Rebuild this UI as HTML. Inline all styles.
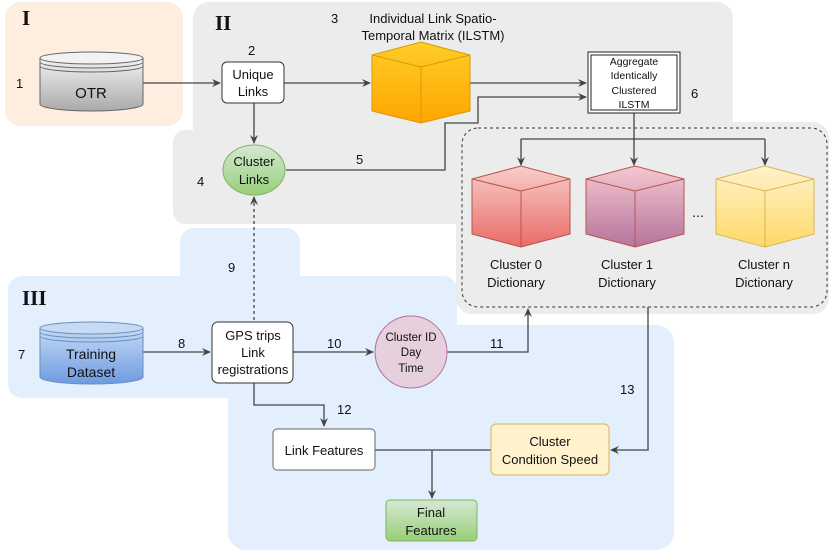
<!DOCTYPE html>
<html><head><style>body{margin:0;background:#fff}svg{display:block}text{font-family:"Liberation Sans",sans-serif;font-size:13px;fill:#111}</style></head><body>
<svg width="830" height="553" viewBox="0 0 830 553" xmlns="http://www.w3.org/2000/svg">
<defs>
<marker id="a" markerWidth="10" markerHeight="10" refX="8" refY="5" orient="auto" markerUnits="userSpaceOnUse"><path d="M0,1 L9,5 L0,9 L3,5 Z" fill="#444"/></marker>
<linearGradient id="gOTR" x1="0" y1="0" x2="0" y2="1"><stop offset="0" stop-color="#f2f2f2"/><stop offset="1" stop-color="#aaa"/></linearGradient>
<linearGradient id="gTD" x1="0" y1="0" x2="0" y2="1"><stop offset="0" stop-color="#c4daf5"/><stop offset="1" stop-color="#6d9be0"/></linearGradient>
<linearGradient id="gOr" x1="0" y1="0" x2="0" y2="1"><stop offset="0" stop-color="#ffcd28"/><stop offset="1" stop-color="#ffa500"/></linearGradient>
<linearGradient id="gR" x1="0" y1="0" x2="0" y2="1"><stop offset="0" stop-color="#f8cecc"/><stop offset="1" stop-color="#ea6b66"/></linearGradient>
<linearGradient id="gP" x1="0" y1="0" x2="0" y2="1"><stop offset="0" stop-color="#f5c8d0"/><stop offset="1" stop-color="#b5739d"/></linearGradient>
<linearGradient id="gY" x1="0" y1="0" x2="0" y2="1"><stop offset="0" stop-color="#fff2cc"/><stop offset="1" stop-color="#ffd966"/></linearGradient>
<linearGradient id="gG" x1="0" y1="0" x2="0" y2="1"><stop offset="0" stop-color="#d5e8d4"/><stop offset="1" stop-color="#97d077"/></linearGradient>
</defs>
<!-- regions -->
<rect x="5" y="2" width="178" height="124" rx="16" fill="#fdeee0"/>
<rect x="193" y="2" width="540" height="222" rx="16" fill="#ececec"/>
<rect x="173" y="130" width="300" height="94" rx="12" fill="#ececec"/>
<rect x="180" y="228" width="120" height="100" rx="14" fill="#e3effc"/>
<rect x="8" y="276" width="449" height="122" rx="14" fill="#e3effc"/>
<rect x="228" y="300" width="229" height="100" fill="#e3effc"/>
<rect x="228" y="325" width="446" height="225" rx="18" fill="#e3effc"/>
<rect x="456" y="122" width="373" height="192" rx="16" fill="#ececec"/>
<rect x="462" y="128" width="365" height="179" rx="16" fill="none" stroke="#333" stroke-dasharray="3,3"/>
<text x="22" y="25" style="font-family:'Liberation Serif',serif;font-size:21px;font-weight:bold">I</text>
<text x="215" y="30" style="font-family:'Liberation Serif',serif;font-size:21px;font-weight:bold">II</text>
<text x="22" y="305" style="font-family:'Liberation Serif',serif;font-size:21px;font-weight:bold">III</text>
<!-- connectors -->
<g stroke="#444" stroke-width="1.3" fill="none">
<path d="M143,83 H220" marker-end="url(#a)"/>
<path d="M284,83 H370" marker-end="url(#a)"/>
<path d="M254,103 V143" marker-end="url(#a)"/>
<path d="M470,83 H586" marker-end="url(#a)"/>
<path d="M286,170 H445 V123 H478 V97 H586" marker-end="url(#a)"/>
<path d="M634,113 V139"/>
<path d="M521,139 H765"/>
<path d="M521,139 V165" marker-end="url(#a)"/>
<path d="M634,139 V165" marker-end="url(#a)"/>
<path d="M765,139 V165" marker-end="url(#a)"/>
<path d="M254,320 V197" stroke-dasharray="3,3" marker-end="url(#a)"/>
<path d="M143,352 H210" marker-end="url(#a)"/>
<path d="M293,352 H373" marker-end="url(#a)"/>
<path d="M447,352 H528 V309" marker-end="url(#a)"/>
<path d="M648,307 V450 H611" marker-end="url(#a)"/>
<path d="M254,383 V405 H324 V426" marker-end="url(#a)"/>
<path d="M375,450 H491"/>
<path d="M432,450 V498" marker-end="url(#a)"/>
</g>
<!-- OTR cylinder -->
<g stroke="#666" stroke-width="1">
<path d="M40,58 V104 A51.5,7 0 0 0 143,104 V58" fill="url(#gOTR)"/>
<ellipse cx="91.5" cy="58" rx="51.5" ry="6" fill="#f2f2f2"/>
<path d="M40,62 A51.5,6 0 0 0 143,62 M40,66 A51.5,6 0 0 0 143,66" fill="none"/>
</g>
<text x="91" y="98" text-anchor="middle" style="font-size:15px">OTR</text>
<!-- Training cylinder -->
<g stroke="#6c8ebf" stroke-width="1">
<path d="M40,328 V377 A51.5,7 0 0 0 143,377 V328" fill="url(#gTD)"/>
<ellipse cx="91.5" cy="328" rx="51.5" ry="6" fill="#c4daf5"/>
<path d="M40,332 A51.5,6 0 0 0 143,332 M40,336 A51.5,6 0 0 0 143,336" fill="none"/>
</g>
<text x="91" y="359" text-anchor="middle" style="font-size:14px">Training</text>
<text x="91" y="377" text-anchor="middle" style="font-size:14px">Dataset</text>
<!-- Unique Links -->
<rect x="222" y="62" width="62" height="41" rx="5" fill="#fff" stroke="#333"/>
<text x="253" y="79" text-anchor="middle">Unique</text><text x="253" y="96" text-anchor="middle">Links</text>
<!-- ILSTM cube -->
<g stroke="#d79b00" stroke-width="1">
<path d="M372,55 L421,42 L470,55 V111 L421,123 L372,111 Z" fill="url(#gOr)"/>
<path d="M372,55 L421,67 L470,55 M421,67 V123" fill="none"/>
</g>
<text x="433" y="23" text-anchor="middle">Individual Link Spatio-</text>
<text x="433" y="40" text-anchor="middle">Temporal Matrix (ILSTM)</text>
<!-- Aggregate -->
<rect x="588" y="52" width="92" height="61" fill="#fff" stroke="#222"/>
<rect x="591" y="55" width="86" height="55" fill="none" stroke="#222"/>
<g style="font-size:10.5px" text-anchor="middle"><text x="634" y="65" style="font-size:10.5px">Aggregate</text><text x="634" y="79" style="font-size:10.5px">Identically</text><text x="634" y="94" style="font-size:10.5px">Clustered</text><text x="634" y="108" style="font-size:10.5px">ILSTM</text></g>
<!-- cluster cubes -->
<g stroke="#b85450" stroke-width="1">
<path d="M472,179 L521,166 L570,179 V234 L521,247 L472,234 Z" fill="url(#gR)"/>
<path d="M472,179 L521,191 L570,179 M521,191 V247" fill="none"/>
<path d="M586,179 L635,166 L684,179 V234 L635,247 L586,234 Z" fill="url(#gP)"/>
<path d="M586,179 L635,191 L684,179 M635,191 V247" fill="none"/>
</g>
<g stroke="#d6b656" stroke-width="1">
<path d="M716,179 L765,166 L814,179 V234 L765,247 L716,234 Z" fill="url(#gY)"/>
<path d="M716,179 L765,191 L814,179 M765,191 V247" fill="none"/>
</g>
<text x="698" y="217" text-anchor="middle" style="font-size:14px">...</text>
<text x="516" y="269" text-anchor="middle">Cluster 0</text><text x="516" y="287" text-anchor="middle">Dictionary</text>
<text x="627" y="269" text-anchor="middle">Cluster 1</text><text x="627" y="287" text-anchor="middle">Dictionary</text>
<text x="764" y="269" text-anchor="middle">Cluster n</text><text x="764" y="287" text-anchor="middle">Dictionary</text>
<!-- Cluster Links -->
<ellipse cx="254" cy="170" rx="31" ry="25" fill="url(#gG)" stroke="#82b366"/>
<text x="254" y="166" text-anchor="middle">Cluster</text><text x="254" y="184" text-anchor="middle">Links</text>
<!-- GPS -->
<rect x="212" y="322" width="81" height="61" rx="6" fill="#fff" stroke="#333"/>
<text x="253" y="340" text-anchor="middle">GPS trips</text><text x="253" y="357" text-anchor="middle">Link</text><text x="253" y="374" text-anchor="middle">registrations</text>
<!-- Cluster ID -->
<ellipse cx="411" cy="352" rx="36" ry="36" fill="#e6d0de" stroke="#b5739d"/>
<g text-anchor="middle" style="font-size:11.5px"><text x="411" y="341" style="font-size:11.5px">Cluster ID</text><text x="411" y="356" style="font-size:11.5px">Day</text><text x="411" y="372" style="font-size:11.5px">Time</text></g>
<!-- Link Features -->
<rect x="273" y="429" width="102" height="41" rx="4" fill="#fff" stroke="#666"/>
<text x="324" y="455" text-anchor="middle">Link Features</text>
<!-- Cluster Condition Speed -->
<rect x="491" y="424" width="118" height="51" rx="5" fill="#fff2cc" stroke="#d6b656"/>
<text x="550" y="446" text-anchor="middle">Cluster</text><text x="550" y="464" text-anchor="middle">Condition Speed</text>
<!-- Final Features -->
<rect x="386" y="500" width="91" height="41" rx="4" fill="url(#gG)" stroke="#82b366"/>
<text x="431" y="517" text-anchor="middle">Final</text><text x="431" y="535" text-anchor="middle">Features</text>
<!-- numbers -->
<g style="font-size:13px">
<text x="16" y="88">1</text><text x="248" y="55">2</text><text x="331" y="23">3</text><text x="197" y="186">4</text>
<text x="356" y="164">5</text><text x="691" y="98">6</text><text x="18" y="359">7</text><text x="178" y="348">8</text>
<text x="228" y="272">9</text><text x="327" y="348">10</text><text x="490" y="348">11</text><text x="337" y="414">12</text><text x="620" y="394">13</text>
</g>
</svg>
</body></html>
